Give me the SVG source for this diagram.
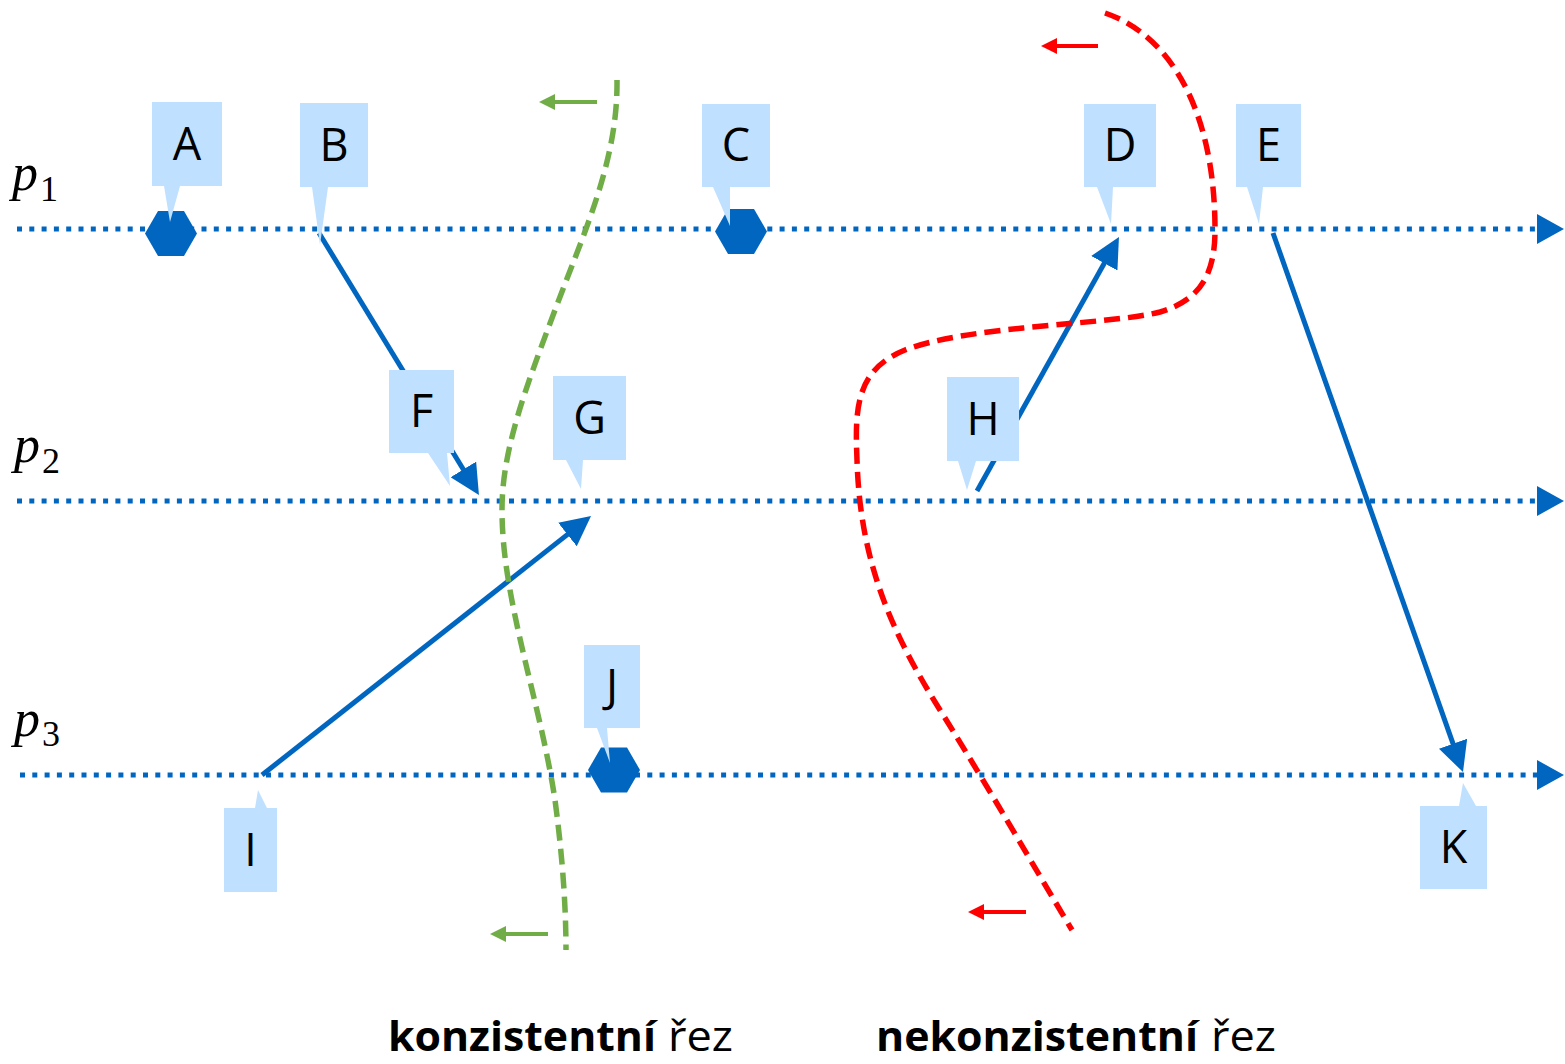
<svg xmlns="http://www.w3.org/2000/svg" width="1565" height="1064" viewBox="0 0 1565 1064">
<style>
.tl{stroke:#0066C0;stroke-width:5;stroke-dasharray:5 7.3;fill:none}
.tlh{fill:#0066C0}
.hex{fill:#0066C0}
.co{fill:#C0E0FF}
.lb{font-family:"Open Sans","Liberation Sans",sans-serif;font-size:45px;fill:#000;text-anchor:middle}
.msg{stroke:#0066C0;stroke-width:5;fill:none;marker-end:url(#ab)}
.p{font-family:"Liberation Serif",serif;font-style:italic;font-size:52px;fill:#000}
.sub{font-family:"Liberation Serif",serif;font-size:36px;fill:#000}
.cutg{stroke:#70AD47;stroke-width:5.5;stroke-dasharray:16 8;fill:none}
.cutr{stroke:#FF0000;stroke-width:5.5;stroke-dasharray:16 8;fill:none}
.ag{stroke:#70AD47;stroke-width:4;marker-end:url(#mg)}
.ar{stroke:#FF0000;stroke-width:4;marker-end:url(#mr)}
.cap{font-family:"Open Sans","Liberation Sans",sans-serif;font-size:42px;fill:#000}
</style>
<defs>
<marker id="ab" markerUnits="userSpaceOnUse" markerWidth="30" markerHeight="30" viewBox="0 0 30 30" refX="18" refY="15" orient="auto"><path d="M0,0 L30,15 L0,30 Z" fill="#0066C0"/></marker>
<marker id="mg" markerUnits="userSpaceOnUse" markerWidth="16" markerHeight="16" viewBox="0 0 16 16" refX="10" refY="8" orient="auto"><path d="M0,0 L16,8 L0,16 Z" fill="#70AD47"/></marker>
<marker id="mr" markerUnits="userSpaceOnUse" markerWidth="16" markerHeight="16" viewBox="0 0 16 16" refX="10" refY="8" orient="auto"><path d="M0,0 L16,8 L0,16 Z" fill="#FF0000"/></marker>
</defs>
<rect width="1565" height="1064" fill="#fff"/>

<g id="timelines">
<line class="tl" x1="17" y1="229" x2="1537" y2="229"/>
<polygon class="tlh" points="1537,214 1564,229 1537,244"/>
<line class="tl" x1="17" y1="501" x2="1537" y2="501"/>
<polygon class="tlh" points="1537,486 1564,501 1537,516"/>
<line class="tl" x1="20" y1="775" x2="1537" y2="775"/>
<polygon class="tlh" points="1537,760 1564,775 1537,790"/>
</g>

<g id="process-labels">
<text class="p" x="12" y="190">p</text><text class="sub" x="40" y="201">1</text>
<text class="p" x="14" y="462">p</text><text class="sub" x="42" y="473">2</text>
<text class="p" x="14" y="736">p</text><text class="sub" x="42" y="746">3</text>
</g>

<g id="connectors">
<line class="msg" x1="319" y1="233" x2="472.7" y2="484.8"/>
<line class="msg" x1="262" y1="775" x2="581.6" y2="523.4"/>
<line class="msg" x1="977" y1="491" x2="1113.1" y2="247.5"/>
<line class="msg" x1="1273" y1="233" x2="1459" y2="760.7"/>
</g>

<g id="hexagons">
<polygon class="hex" points="145,233.5 158,211 184,211 197,233.5 184,256 158,256"/>
<polygon class="hex" points="715,231.5 728,209 754,209 767,231.5 754,254 728,254"/>
<polygon class="hex" points="588,770 601,747.5 627,747.5 640,770 627,792.5 601,792.5"/>
</g>

<g id="node-A"><path class="co" d="M152,102 H222 V186 H180 L170,222 L164,186 H152 Z"/><text class="lb" x="187" y="160">A</text></g>
<g id="node-B"><path class="co" d="M300,103 H368 V187 H328 L320,245 L312,187 H300 Z"/><text class="lb" x="334" y="161">B</text></g>
<g id="node-C"><path class="co" d="M702,104 H770 V187 H730 L730,226 L713,187 H702 Z"/><text class="lb" x="736" y="161">C</text></g>
<g id="node-D"><path class="co" d="M1084,104 H1156 V187 H1113 L1111,224 L1097,187 H1084 Z"/><text class="lb" x="1120" y="161">D</text></g>
<g id="node-E"><path class="co" d="M1236,104 H1301 V187 H1263 L1259,224 L1247,187 H1236 Z"/><text class="lb" x="1268.5" y="161">E</text></g>
<g id="node-F"><path class="co" d="M389,370 H454 V453 H447 L450,486 L428,453 H389 Z"/><text class="lb" x="421.5" y="427">F</text></g>
<g id="node-G"><path class="co" d="M553,376 H626 V460 H583 L581,489 L566,460 H553 Z"/><text class="lb" x="589.5" y="434">G</text></g>
<g id="node-H"><path class="co" d="M947,377 H1019 V461 H976 L967,490 L958,461 H947 Z"/><text class="lb" x="983" y="435">H</text></g>
<g id="node-I"><path class="co" d="M224,808 H255 L258,790 L267,808 H277 V892 H224 Z"/><text class="lb" x="250.5" y="866">I</text></g>
<g id="node-J"><path class="co" d="M584,645 H640 V728 H607 L610,763 L597,728 H584 Z"/><text class="lb" x="612" y="702">J</text></g>
<g id="node-K"><path class="co" d="M1420,806 H1459 L1463,783 L1476,806 H1487 V889 H1420 Z"/><text class="lb" x="1453.5" y="863">K</text></g>

<g id="cuts">
<path class="cutg" d="M617,80 C618,160 585,230 555,310 C525,390 502,450 502,510 C502,600 540,700 555,800 C563,860 566,910 566,950"/>
<line class="ag" x1="597" y1="102" x2="545" y2="102"/>
<line class="ag" x1="548" y1="934" x2="496" y2="934"/>
<path class="cutr" d="M1105,13 C1170,35 1215,110 1215,230 C1215,275 1200,300 1160,312 C1110,325 970,325 905,350 C855,370 855,410 857,460 C860,560 890,630 940,710 C990,790 1030,860 1072,930"/>
<line class="ar" x1="1098" y1="46" x2="1047" y2="46"/>
<line class="ar" x1="1026" y1="912" x2="974" y2="912"/>
</g>

<g id="captions">
<text class="cap" x="388" y="1051" font-weight="bold" textLength="268" lengthAdjust="spacingAndGlyphs">konzistentní</text>
<text class="cap" x="668" y="1051" textLength="65" lengthAdjust="spacingAndGlyphs">řez</text>
<text class="cap" x="876" y="1051" font-weight="bold" textLength="322" lengthAdjust="spacingAndGlyphs">nekonzistentní</text>
<text class="cap" x="1211" y="1051" textLength="65" lengthAdjust="spacingAndGlyphs">řez</text>
</g>
</svg>
